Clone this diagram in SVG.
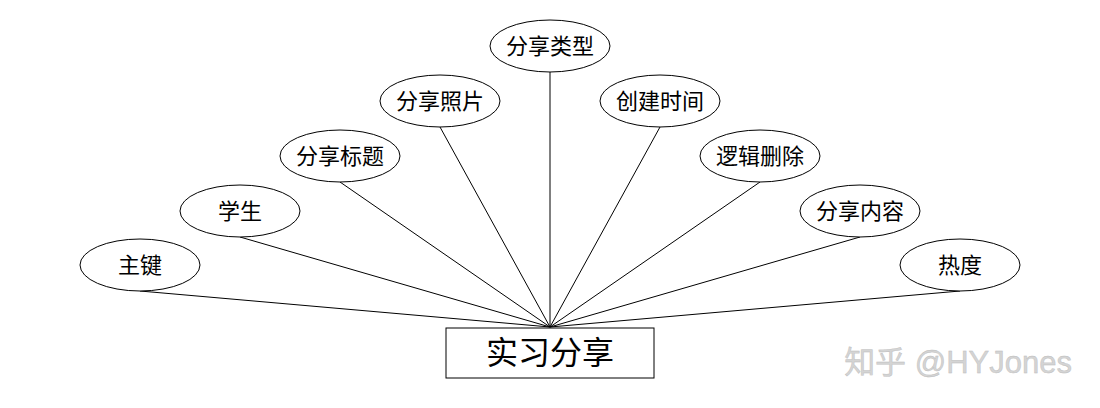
<svg xmlns="http://www.w3.org/2000/svg" width="1100" height="408" viewBox="0 0 1100 408">
<style>
.e{fill:#fff;stroke:#000;stroke-width:1}
.t{font-family:"Liberation Sans","Noto Sans CJK SC",sans-serif;font-size:22px;text-anchor:middle;dominant-baseline:central;fill:#000}
.c line{stroke:#000;stroke-width:1}
</style>
<rect width="1100" height="408" fill="#fff"/>
<g class="c" id="connectors">
<line x1="140" y1="291" x2="550" y2="327"/>
<line x1="240" y1="237" x2="550" y2="327"/>
<line x1="340" y1="182" x2="550" y2="327"/>
<line x1="440" y1="127" x2="550" y2="327"/>
<line x1="550" y1="72" x2="550" y2="327"/>
<line x1="660" y1="127" x2="550" y2="327"/>
<line x1="760" y1="182" x2="550" y2="327"/>
<line x1="860" y1="237" x2="550" y2="327"/>
<line x1="960" y1="291" x2="550" y2="327"/>
</g>
<g id="n1"><ellipse class="e" cx="140" cy="265" rx="60" ry="26"/><text class="t" x="140" y="265">主键</text></g>
<g id="n2"><ellipse class="e" cx="240" cy="211" rx="60" ry="26"/><text class="t" x="240" y="211">学生</text></g>
<g id="n3"><ellipse class="e" cx="340" cy="156" rx="60" ry="26"/><text class="t" x="340" y="156">分享标题</text></g>
<g id="n4"><ellipse class="e" cx="440" cy="101" rx="60" ry="26"/><text class="t" x="440" y="101">分享照片</text></g>
<g id="n5"><ellipse class="e" cx="550" cy="46" rx="60" ry="26"/><text class="t" x="550" y="46">分享类型</text></g>
<g id="n6"><ellipse class="e" cx="660" cy="101" rx="60" ry="26"/><text class="t" x="660" y="101">创建时间</text></g>
<g id="n7"><ellipse class="e" cx="760" cy="156" rx="60" ry="26"/><text class="t" x="760" y="156">逻辑删除</text></g>
<g id="n8"><ellipse class="e" cx="860" cy="211" rx="60" ry="26"/><text class="t" x="860" y="211">分享内容</text></g>
<g id="n9"><ellipse class="e" cx="960" cy="265" rx="60" ry="26"/><text class="t" x="960" y="265">热度</text></g>
<g id="entity"><rect x="446" y="328" width="208" height="50" fill="#fff" stroke="#000" stroke-width="1"/><text class="t" x="550" y="353" style="font-size:32px">实习分享</text></g>
<text x="1072" y="373" text-anchor="end" style="font-family:'Liberation Sans','Noto Sans CJK SC',sans-serif;font-size:31px;fill:#d4d4d4;stroke:#bbb;stroke-width:0.4">知乎 @HYJones</text>
</svg>
